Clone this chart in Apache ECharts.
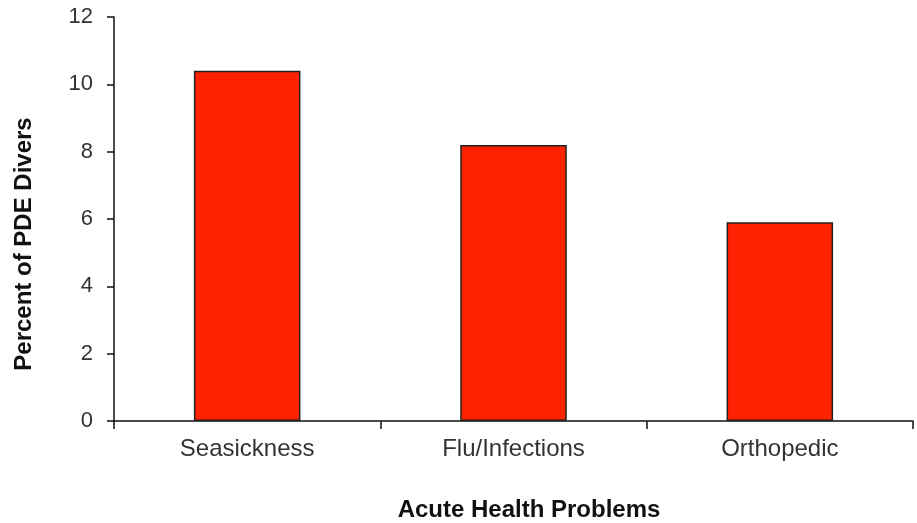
<!DOCTYPE html>
<html>
<head>
<meta charset="utf-8">
<script src="https://cdn.jsdelivr.net/npm/echarts@6/dist/echarts.min.js"></script>
<style>html,body{margin:0;padding:0;background:#fff;}#c{width:917px;height:523px;}</style>
</head>
<body>
<div id="c"></div>
<script>
var categories = ['Seasickness', 'Flu/Infections', 'Orthopedic'];
var values = [10.4, 8.2, 5.9];
var yTicks = [0, 2, 4, 6, 8, 10, 12];
var xTitle = 'Acute Health Problems';
var yTitle = 'Percent of PDE Divers';

var chart = echarts.init(document.getElementById('c'), null, {renderer: 'canvas'});
var font = 'Liberation Sans, Arial, sans-serif';
chart.setOption({
  animation: false,
  backgroundColor: '#fff',
  grid: {left: 114, right: 4, top: 17, bottom: 102, containLabel: false},
  xAxis: {
    type: 'category',
    data: categories,
    boundaryGap: true,
    axisLine: {lineStyle: {color: '#111', width: 1.5}},
    axisTick: {show: true, length: 8, lineStyle: {color: '#111', width: 1.5}},
    axisLabel: {color: '#333', fontSize: 24, fontFamily: font, margin: 16}
  },
  yAxis: {
    type: 'value',
    min: yTicks[0],
    max: yTicks[yTicks.length - 1],
    interval: 2,
    splitLine: {show: false},
    axisLine: {show: true, lineStyle: {color: '#111', width: 1.5}},
    axisTick: {show: true, length: 7, lineStyle: {color: '#111', width: 1.5}},
    axisLabel: {color: '#333', fontSize: 22, fontFamily: font, margin: 21}
  },
  series: [{
    type: 'bar',
    data: values,
    barWidth: '40%',
    itemStyle: {color: '#ff2200', borderColor: '#222', borderWidth: 1.5}
  }],
  graphic: [
    {type: 'text', silent: true, x: 529, y: 510,
     style: {text: xTitle, fill: '#111', font: 'bold 24px ' + font, textAlign: 'center', textVerticalAlign: 'middle'}},
    {type: 'text', silent: true, x: 24, y: 244, rotation: Math.PI / 2,
     style: {text: yTitle, fill: '#111', font: 'bold 24px ' + font, textAlign: 'center', textVerticalAlign: 'middle'}}
  ]
});
</script>
</body>
</html>
